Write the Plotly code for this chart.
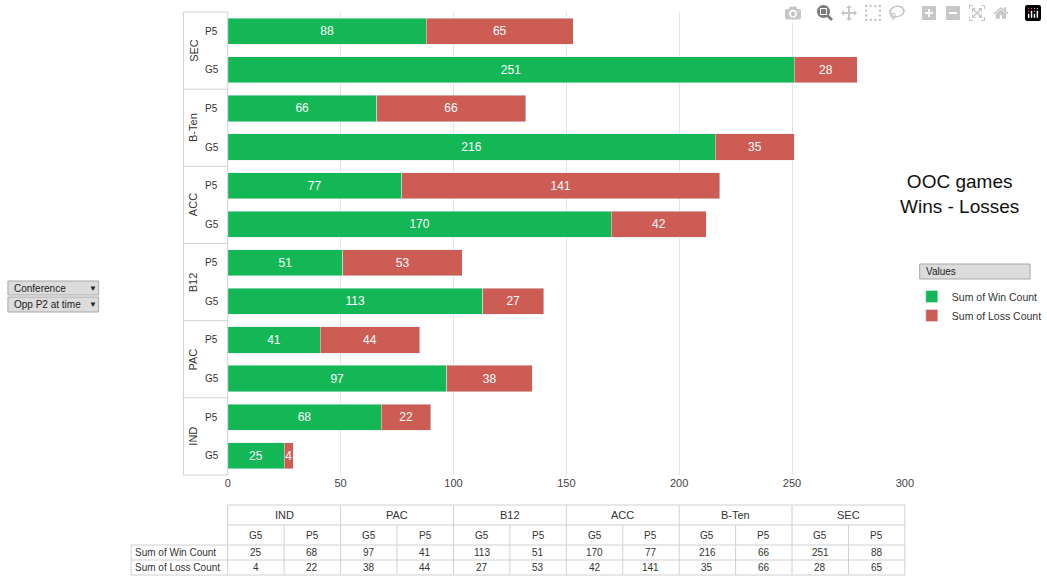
import plotly.graph_objects as go

W, H = 1047, 585
groups = ["IND", "PAC", "B12", "ACC", "B-Ten", "SEC"]
subs = ["G5", "P5"]
g5_wins = [25, 97, 113, 170, 216, 251]
p5_wins = [68, 41, 51, 77, 66, 88]
g5_losses = [4, 38, 27, 42, 35, 28]
p5_losses = [22, 44, 53, 141, 66, 65]
series_names = ["Sum of Win Count", "Sum of Loss Count"]
colors = ["#13B756", "#CD5C55"]

cats, wins, losses = [], [], []
for i, g in enumerate(groups):
    cats += [g + " G5", g + " P5"]
    wins += [g5_wins[i], p5_wins[i]]
    losses += [g5_losses[i], p5_losses[i]]

def px(x): return x / W
def py(y): return 1 - y / H

X0, X1, Y0, Y1 = 228, 915, 12, 475
fig = go.Figure()
for name, vals, c in zip(series_names, [wins, losses], colors):
    fig.add_trace(go.Bar(y=cats, x=vals, orientation="h", name=name, marker_color=c,
                         text=vals, textposition="inside", insidetextanchor="middle",
                         constraintext="none",
                         textfont=dict(color="white", size=12), cliponaxis=False))

shapes, ann = [], []
def line(x0, y0, x1, y1, c="#d0d0d0"):
    shapes.append(dict(type="line", xref="paper", yref="paper", x0=px(x0), y0=py(y0), x1=px(x1), y1=py(y1),
                       line=dict(color=c, width=1)))
def text(x, y, t, size=11, anchor="center", angle=0, color="#333"):
    ann.append(dict(xref="paper", yref="paper", x=px(x), y=py(y), text=t, showarrow=False,
                    xanchor=anchor, yanchor="middle", textangle=angle, font=dict(size=size, color=color)))

rowh = (Y1 - Y0) / 12
line(183, Y0, 183, Y1); line(X0, Y0, X0, Y1)
for k in range(7):
    line(183, Y0 + k * 2 * rowh, X0, Y0 + k * 2 * rowh)
for i, g in enumerate(groups):
    yc_top = Y1 - (i + 1) * 2 * rowh
    text(193, yc_top + rowh, g, 11, angle=-90)
    text(212, yc_top + rowh * 0.5, "P5", 10, "center")
    text(212, yc_top + rowh * 1.5, "G5", 10, "center")

# data table
TY = [505, 525, 545, 560, 575]
cw = (X1 - X0) / 6
for y in TY:
    line(X0 if y < 545 else 130, y, X1, y)
line(130, 545, 130, 575)
for k in range(7):
    line(X0 + k * cw, 505, X0 + k * cw, 575)
for k in range(6):
    line(X0 + k * cw + cw / 2, 525, X0 + k * cw + cw / 2, 575)
for i, g in enumerate(groups):
    text(X0 + i * cw + cw / 2, 515, g, 11)
    vals = [(g5_wins[i], g5_losses[i]), (p5_wins[i], p5_losses[i])]
    for j, s in enumerate(subs):
        xc = X0 + i * cw + cw / 4 + j * cw / 2
        text(xc, 535, s, 10)
        text(xc, 552.5, str(vals[j][0]), 10)
        text(xc, 567.5, str(vals[j][1]), 10)
text(132, 552.5, "Sum of Win Count", 10, "left")
text(132, 567.5, "Sum of Loss Count", 10, "left")

text(970, 194, "OOC games<br>Wins - Losses", 19, color="#111")

def button(x0, y0, x1, y1, label):
    shapes.append(dict(type="rect", xref="paper", yref="paper", x0=px(x0), y0=py(y0), x1=px(x1), y1=py(y1),
                       fillcolor="#dcdcdc", line=dict(color="#a8a8a8", width=1)))
    text(x0 + 4, (y0 + y1) / 2, label, 10, "left", color="#222")
button(5, 281, 97, 295, "Conference"); text(91, 288, "▼", 8, color="#222")
button(5, 297, 97, 312, "Opp P2 at time"); text(91, 304.5, "▼", 8, color="#222")
button(930, 264, 1042, 279, "Values")

fig.update_layout(
    width=W, height=H, margin=dict(l=0, r=0, t=0, b=0),
    paper_bgcolor="white", plot_bgcolor="white", barmode="stack", bargap=0.32,
    font=dict(family="Liberation Sans, Arial", size=11, color="#333"),
    xaxis=dict(domain=[px(X0), px(X1)], range=[0, 300], dtick=50, showgrid=True, gridcolor="#e4e4e4",
               zeroline=False, tickfont=dict(size=11, color="#444"), ticks=""),
    yaxis=dict(domain=[py(Y1), py(Y0)], categoryorder="array", categoryarray=cats,
               showticklabels=False, showgrid=False, ticks=""),
    legend=dict(x=px(922), y=py(282), xanchor="left", yanchor="top", font=dict(size=10.5, color="#333"),
                traceorder="normal", itemwidth=30, tracegroupgap=0, bgcolor="rgba(0,0,0,0)"),
    shapes=shapes, annotations=ann,
)
fig.write_html("out.html", post_script="document.body.style.margin='0';document.body.style.overflow='hidden';")
